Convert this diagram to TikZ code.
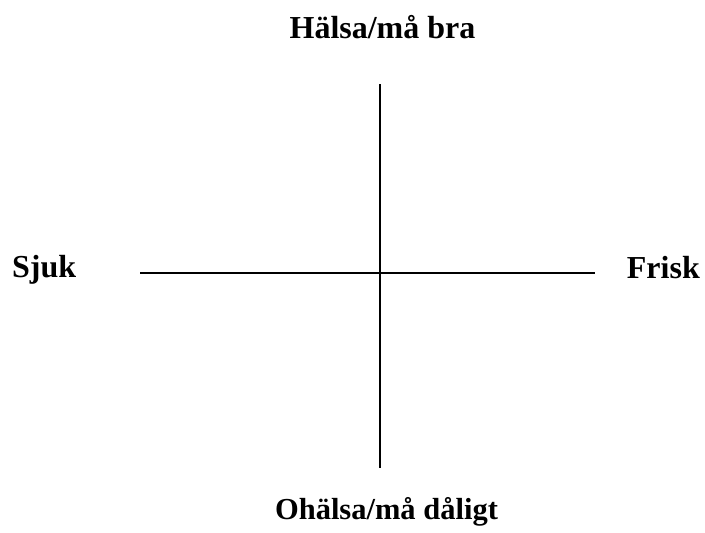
\documentclass[tikz,border=0pt]{standalone}
\usepackage{fontspec}
\setmainfont{Liberation Serif}
\begin{document}
\begin{tikzpicture}[x=1pt,y=-1pt,
  lbl/.style={font=\fontsize{32}{38}\selectfont\bfseries, inner sep=0pt},
  axis/.style={line width=1.6pt}]
\useasboundingbox (0,0) rectangle (705,533);
\node[lbl,anchor=base] (top) at (382.5,38) {Hälsa/må bra};
\node[lbl,anchor=base,font=\fontsize{30.5}{36}\selectfont\bfseries] (bot) at (386.5,519) {Ohälsa/må dåligt};
\node[lbl,anchor=base west] (left) at (12,277) {Sjuk};
\node[lbl,anchor=base east] (right) at (700,278) {Frisk};
\coordinate (vt) at (380,84);
\coordinate (vb) at (380,468);
\coordinate (hl) at (140,273);
\coordinate (hr) at (595,273);
\draw[axis] (vt) -- (vb);
\draw[axis] (hl) -- (hr);
\end{tikzpicture}
\end{document}
